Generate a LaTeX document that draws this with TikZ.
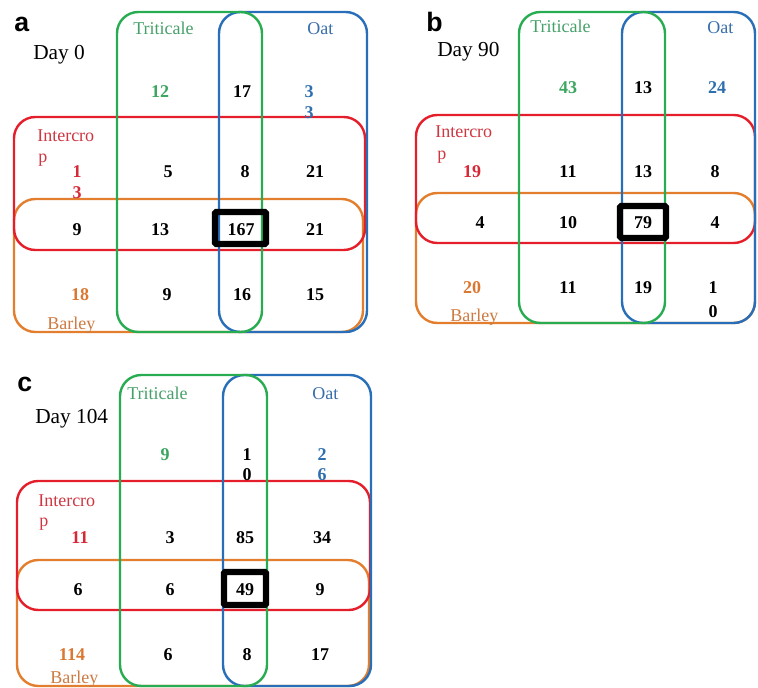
\documentclass[tikz,border=0pt]{standalone}
\usepackage{fontspec}
\setmainfont{Liberation Serif}
\newfontfamily\lblfont{Liberation Sans}
\definecolor{cgreen}{RGB}{40,172,82}
\definecolor{cblue}{RGB}{40,110,185}
\definecolor{cred}{RGB}{228,30,42}
\definecolor{corange}{RGB}{226,126,45}
\definecolor{tgreen}{RGB}{60,165,95}
\definecolor{tblue}{RGB}{45,110,175}
\definecolor{tred}{RGB}{215,40,55}
\definecolor{torange}{RGB}{218,120,50}
\definecolor{lgreen}{RGB}{70,160,105}
\definecolor{lblue}{RGB}{55,110,170}
\definecolor{lred}{RGB}{205,55,65}
\definecolor{lorange}{RGB}{205,122,65}
\tikzset{
  vset/.style={line width=1.8pt, rounded corners=16pt},
  gset/.style={vset, draw=cgreen},
  bset/.style={vset, draw=cblue},
  rset/.style={vset, draw=cred},
  oset/.style={vset, draw=corange},
  hl/.style={draw=black, line width=4.6pt, rounded corners=1pt},
  num/.style={font=\fontsize{13.5}{15}\selectfont\bfseries, inner sep=0pt},
  word/.style={font=\fontsize{13.5}{15}\selectfont, inner sep=0pt, anchor=base west},
  daylbl/.style={font=\fontsize{16}{18}\selectfont, inner sep=0pt, anchor=base west},
  plabel/.style={font=\lblfont\bfseries\fontsize{20}{22}\selectfont, inner sep=0pt, anchor=base west}
}
\begin{document}
\begin{tikzpicture}[x=0.75pt,y=-0.75pt]
\useasboundingbox (0,0) rectangle (758,688);
% ---------- panel a ----------
\draw[oset] (14,199) rectangle (363,332);
\draw[rset] (14,117) rectangle (365,250);
\draw[bset] (219,12) rectangle (367,332);
\draw[gset] (117,12) rectangle (262,332);
\draw[hl] (215,212) rectangle (266,244);
\node[plabel] (a-lab) at (14,32) {a};
\node[daylbl] (a-day) at (33,60) {Day 0};
\node[word, text=lgreen] (a-tri) at (133,35) {Triticale};
\node[word, text=lblue] (a-oat) at (307,35) {Oat};
\node[word, text=lred] (a-int1) at (37,142) {Intercro};
\node[word, text=lred] (a-int2) at (38,163) {p};
\node[word, text=lorange] (a-bar) at (47,330) {Barley};
\node[num, text=tgreen] (a-n11) at (160,92) {12};
\node[num] (a-n12) at (242,92) {17};
\node[num, text=tblue] (a-n13a) at (309,92) {3};
\node[num, text=tblue] (a-n13b) at (309,113) {3};
\node[num, text=tred] (a-n20a) at (77,172) {1};
\node[num, text=tred] (a-n20b) at (77,193) {3};
\node[num] (a-n21) at (168,172) {5};
\node[num] (a-n22) at (245,172) {8};
\node[num] (a-n23) at (315,172) {21};
\node[num] (a-n30) at (77,230) {9};
\node[num] (a-n31) at (160,230) {13};
\node[num] (a-n32) at (241,230) {167};
\node[num] (a-n33) at (315,230) {21};
\node[num, text=torange] (a-n40) at (80,295) {18};
\node[num] (a-n41) at (167,295) {9};
\node[num] (a-n42) at (242,295) {16};
\node[num] (a-n43) at (315,295) {15};
% ---------- panel b ----------
\draw[oset] (416,193) rectangle (755,323);
\draw[rset] (416,115) rectangle (755,243);
\draw[bset] (622,12) rectangle (755,323);
\draw[gset] (519,12) rectangle (665,323);
\draw[hl] (620,206) rectangle (666,238);
\node[plabel] (b-lab) at (426,32) {b};
\node[daylbl] (b-day) at (437,57) {Day 90};
\node[word, text=lgreen] (b-tri) at (530,33) {Triticale};
\node[word, text=lblue] (b-oat) at (707,34) {Oat};
\node[word, text=lred] (b-int1) at (435,138) {Intercro};
\node[word, text=lred] (b-int2) at (437,160) {p};
\node[word, text=lorange] (b-bar) at (450,322) {Barley};
\node[num, text=tgreen] (b-n11) at (568,88) {43};
\node[num] (b-n12) at (643,88) {13};
\node[num, text=tblue] (b-n13) at (717,88) {24};
\node[num, text=tred] (b-n20) at (472,172) {19};
\node[num] (b-n21) at (568,172) {11};
\node[num] (b-n22) at (643,172) {13};
\node[num] (b-n23) at (715,172) {8};
\node[num] (b-n30) at (480,223) {4};
\node[num] (b-n31) at (568,223) {10};
\node[num] (b-n32) at (643,223) {79};
\node[num] (b-n33) at (715,223) {4};
\node[num, text=torange] (b-n40) at (472,288) {20};
\node[num] (b-n41) at (568,288) {11};
\node[num] (b-n42) at (643,288) {19};
\node[num] (b-n43a) at (713,288) {1};
\node[num] (b-n43b) at (713,312) {0};
% ---------- panel c ----------
\draw[oset] (17,560) rectangle (369,686);
\draw[rset] (17,481) rectangle (370,610);
\draw[bset] (223,375) rectangle (371,686);
\draw[gset] (120,375) rectangle (267,686);
\draw[hl] (224,572) rectangle (266,605);
\node[plabel] (c-lab) at (17,392) {c};
\node[daylbl] (c-day) at (35,423) {Day 104};
\node[word, text=lgreen] (c-tri) at (127,400) {Triticale};
\node[word, text=lblue] (c-oat) at (312,400) {Oat};
\node[word, text=lred] (c-int1) at (38,507) {Intercro};
\node[word, text=lred] (c-int2) at (39,527) {p};
\node[word, text=lorange] (c-bar) at (50,683) {Barley};
\node[num, text=tgreen] (c-n11) at (165,455) {9};
\node[num] (c-n12a) at (247,455) {1};
\node[num] (c-n12b) at (247,475) {0};
\node[num, text=tblue] (c-n13a) at (322,455) {2};
\node[num, text=tblue] (c-n13b) at (322,475) {6};
\node[num, text=tred] (c-n20) at (80,538) {11};
\node[num] (c-n21) at (170,538) {3};
\node[num] (c-n22) at (245,538) {85};
\node[num] (c-n23) at (322,538) {34};
\node[num] (c-n30) at (78,590) {6};
\node[num] (c-n31) at (170,590) {6};
\node[num] (c-n32) at (245,590) {49};
\node[num] (c-n33) at (320,590) {9};
\node[num, text=torange] (c-n40) at (72,655) {114};
\node[num] (c-n41) at (168,655) {6};
\node[num] (c-n42) at (247,655) {8};
\node[num] (c-n43) at (320,655) {17};
\end{tikzpicture}
\end{document}
